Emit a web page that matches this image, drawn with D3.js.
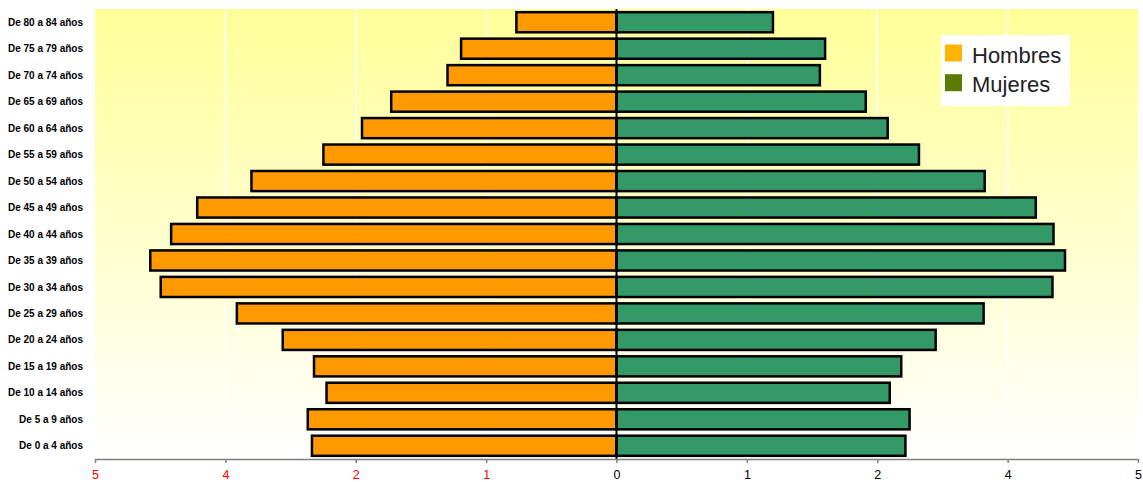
<!DOCTYPE html>
<html>
<head>
<meta charset="utf-8">
<script src="https://cdn.jsdelivr.net/npm/d3@7"></script>
<style>
  html, body { margin: 0; padding: 0; background: #ffffff; }
  svg { display: block; }
</style>
</head>
<body>
<svg id="chart" width="1143" height="482"></svg>
<script>
// ---- data ----
const categories = [
  "De 80 a 84 años", "De 75 a 79 años", "De 70 a 74 años", "De 65 a 69 años",
  "De 60 a 64 años", "De 55 a 59 años", "De 50 a 54 años", "De 45 a 49 años",
  "De 40 a 44 años", "De 35 a 39 años", "De 30 a 34 años", "De 25 a 29 años",
  "De 20 a 24 años", "De 15 a 19 años", "De 10 a 14 años", "De 5 a 9 años",
  "De 0 a 4 años"
];
const hombres = [0.96, 1.49, 1.62, 2.16, 2.44, 2.81, 3.50, 4.02, 4.27, 4.47, 4.37, 3.64, 3.20, 2.90, 2.78, 2.96, 2.92];
const mujeres = [1.50, 2.00, 1.95, 2.39, 2.60, 2.90, 3.53, 4.02, 4.19, 4.30, 4.18, 3.52, 3.06, 2.73, 2.62, 2.81, 2.77];
const tickValues = [-5, -3.75, -2.5, -1.25, 0, 1.25, 2.5, 3.75, 5];
const tickLabels = ["5", "4", "2", "1", "0", "1", "2", "4", "5"];
const seriesNames = ["Hombres", "Mujeres"];

(function () {
// ---- layout ----
const svg = d3.select("#chart");
const pLeft = 95, pRight = 1138, pTop = 9, pBottom = 459;

const x = d3.scaleLinear().domain([-5, 5]).range([pLeft, pRight]);
const y = d3.scaleBand().domain(categories).range([pTop, pBottom]).paddingInner(0.24).paddingOuter(0.12);

// background gradient
const defs = svg.append("defs");
const grad = defs.append("linearGradient").attr("id", "bg").attr("x1", 0).attr("y1", 0).attr("x2", 0).attr("y2", 1);
grad.append("stop").attr("offset", "0%").attr("stop-color", "#FFFF99");
grad.append("stop").attr("offset", "100%").attr("stop-color", "#FFFFFF");

svg.append("rect")
  .attr("x", pLeft).attr("y", pTop)
  .attr("width", pRight - pLeft).attr("height", pBottom - pTop)
  .attr("fill", "url(#bg)");

// gridlines
svg.append("g").selectAll("line")
  .data(tickValues.filter(v => v !== 0 && Math.abs(v) !== 5))
  .join("line")
  .attr("x1", d => x(d)).attr("x2", d => x(d))
  .attr("y1", pTop).attr("y2", pBottom)
  .attr("stroke", "#ffffff").attr("stroke-width", 1.5);

// bars
svg.append("g").selectAll("rect")
  .data(categories.map((c, i) => ({c, v: hombres[i]})))
  .join("rect")
  .attr("x", d => x(-d.v)).attr("y", d => y(d.c))
  .attr("width", d => x(0) - x(-d.v)).attr("height", y.bandwidth())
  .attr("fill", "#FF9900").attr("stroke", "#000").attr("stroke-width", 2.5);

svg.append("g").selectAll("rect")
  .data(categories.map((c, i) => ({c, v: mujeres[i]})))
  .join("rect")
  .attr("x", x(0)).attr("y", d => y(d.c))
  .attr("width", d => x(d.v) - x(0)).attr("height", y.bandwidth())
  .attr("fill", "#339966").attr("stroke", "#000").attr("stroke-width", 2.5);

// center vertical axis
svg.append("line")
  .attr("x1", x(0)).attr("x2", x(0)).attr("y1", pTop).attr("y2", pBottom)
  .attr("stroke", "#000").attr("stroke-width", 2);

// category labels
svg.append("g").selectAll("text")
  .data(categories)
  .join("text")
  .attr("x", 83).attr("y", d => y(d) + y.bandwidth() / 2 + 3.6)
  .attr("text-anchor", "end")
  .attr("font-family", "Liberation Sans, Arial, sans-serif")
  .attr("font-weight", "bold").attr("font-size", 10)
  .attr("fill", "#000")
  .text(d => d);

// bottom axis
const xAxis = d3.axisBottom(x).tickValues(tickValues).tickSize(4).tickSizeOuter(0)
  .tickFormat((d, i) => tickLabels[i]);
const ax = svg.append("g").attr("transform", `translate(0,${pBottom})`).call(xAxis);
ax.select(".domain").attr("stroke", "#808080").attr("stroke-width", 1.5);
ax.selectAll(".tick line").attr("stroke", "#808080").attr("stroke-width", 1.5);
ax.selectAll(".tick text")
  .attr("y", 20).attr("dy", null)
  .attr("font-family", "Liberation Sans, Arial, sans-serif")
  .attr("font-size", 12.5)
  .attr("fill", d => d < 0 ? "#FF0000" : "#000");

// legend
const lg = svg.append("g");
lg.append("rect").attr("x", 941).attr("y", 35).attr("width", 129).attr("height", 71).attr("fill", "#ffffff");
const legendColors = ["#FFB400", "#5A7A00"];
seriesNames.forEach((n, i) => {
  lg.append("rect").attr("x", 945).attr("y", 44.5 + i * 29.7).attr("width", 17).attr("height", 17)
    .attr("fill", legendColors[i]);
  lg.append("text").attr("x", 972).attr("y", 62.7 + i * 29.7)
    .attr("font-family", "Liberation Sans, Arial, sans-serif")
    .attr("font-size", 22).attr("fill", "#222")
    .text(n);
});
})();
</script>
</body>
</html>
